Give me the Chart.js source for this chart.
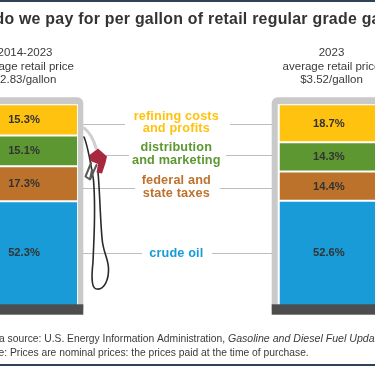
<!DOCTYPE html>
<html><head><meta charset="utf-8">
<style>html,body{margin:0;padding:0;background:#fff;overflow:hidden;width:375px;height:366px}
#w{position:absolute;left:-60px;top:0;width:500px;height:366px}
canvas{filter:blur(0.35px)}</style>
<script src="https://cdn.jsdelivr.net/npm/chart.js@4"></script></head>
<body><div id="w"><canvas id="c" width="500" height="366" style="width:500px;height:366px"></canvas></div>
<script>
const categories = ["2014-2023", "", "2023"];
const crude = [52.3, null, 52.6];
const taxes = [17.3, null, 14.4];
const distribution = [15.1, null, 14.3];
const refining = [15.3, null, 18.7];
const headers = [["2014-2023", "average retail price", "$2.83/gallon"], ["2023", "average retail price", "$3.52/gallon"]];
const titleText = "What do we pay for per gallon of retail regular grade gasoline?";
const sourceParts = ["Data source: U.S. Energy Information Administration, ", "Gasoline and Diesel Fuel Update"];
const noteText = "Note: Prices are nominal prices: the prices paid at the time of purchase.";
const C = {y:"#ffc20e", g:"#5d9732", b:"#bd722b", l:"#189bd7"};
const OX = 60; // canvas offset relative to the window
const F = "'Liberation Sans', Arial, sans-serif";

const annot = {
  id:"annot",
  beforeDatasetsDraw(ch){
    const x = ch.ctx; x.save(); x.translate(OX,0);
    x.fillStyle="#c9c9c9";
    x.beginPath(); x.roundRect(-60,97.3,143.3,212,[0,6,0,0]); x.fill();
    x.beginPath(); x.roundRect(271.7,97.3,170,212,[6,0,0,0]); x.fill();
    x.fillStyle="#fff";
    x.fillRect(-60,104.3,137.7,205); x.fillRect(277.7,104.3,170,205);
    // leader lines
    x.strokeStyle="#bdbdbd"; x.lineWidth=1;
    [[124.5,83,125,230,272],[155.5,105,129,226,272],[188.5,83,135,220,272],[253.5,83,142,212,272]].forEach(l=>{
      x.beginPath(); x.moveTo(l[1],l[0]); x.lineTo(l[2],l[0]); x.moveTo(l[3],l[0]); x.lineTo(l[4],l[0]); x.stroke();
    });
    x.restore();
  },
  afterDatasetsDraw(ch){
    const x = ch.ctx; x.save(); x.translate(OX,0);
    const baseTop = 304.3;
    x.fillStyle="#4d4d4d";
    x.fillRect(-60,baseTop,143.3,10.4); x.fillRect(271.7,baseTop,170,10.4);
    // value labels
    x.font="bold 11.2px "+F; x.fillStyle="#333"; x.textAlign="center"; x.textBaseline="middle";
    ch.data.datasets.forEach((d,i)=>{
      ch.getDatasetMeta(i).data.forEach((el,j)=>{
        if(d.data[j]==null) return;
        const my=(el.y+Math.min(el.base,baseTop))/2;
        x.fillText(d.data[j].toFixed(1)+"%", el.x-OX-2, my+0.5);
      });
    });
    // headers
    x.font="11.5px "+F; x.fillStyle="#3a3a3a";
    headers.forEach((h,i)=>h.forEach((t,k)=>x.fillText(t,[25,331.5][i],53.3+k*13.2)));
    // category text
    x.font="bold 12.7px "+F; x.letterSpacing="0.15px";
    [["refining costs",116,C.y],["and profits",128.5,C.y],["distribution",147.5,C.g],["and marketing",160,C.g],
     ["federal and",180.5,C.b],["state taxes",193,C.b],["crude oil",253.5,C.l]].forEach(t=>{
      x.fillStyle=t[2]; x.fillText(t[0],176.3,t[1]);
    });
    x.letterSpacing="0px";
    // title
    x.font="bold 15.9px "+F; x.fillStyle="#333"; x.letterSpacing="0.25px";
    x.fillText(titleText,194,19.5);
    x.letterSpacing="0px";
    // footer
    x.textAlign="left"; x.font="10.3px "+F; x.fillStyle="#3a3a3a";
    let sx=-17; x.fillText(sourceParts[0],sx,339.5);
    sx+=x.measureText(sourceParts[0]).width;
    x.font="italic 10.6px "+F; x.fillText(sourceParts[1],sx,339.5);
    x.font="10.3px "+F; x.fillText(noteText,-17.5,353.5);
    // pump
    x.lineCap="round"; x.lineJoin="round";
    x.strokeStyle="#cfcfcf"; x.lineWidth=3;
    x.beginPath(); x.moveTo(84,128); x.quadraticCurveTo(92,134,96,148); x.stroke();
    x.strokeStyle="#2a2a2a"; x.lineWidth=1.6;
    x.beginPath(); x.moveTo(84,137); x.bezierCurveTo(88,146,91,165,93.5,180);
    x.bezierCurveTo(96,210,94,235,93,262); x.bezierCurveTo(91,280,92,289,97,289);
    x.bezierCurveTo(104,290,109,280,108.5,268); x.bezierCurveTo(108,258,103,252,102,238);
    x.bezierCurveTo(100,215,100,195,98,172); x.stroke();
    x.strokeStyle="#5a5a5a"; x.lineWidth=2;
    x.beginPath(); x.moveTo(91,163); x.lineTo(85.5,176.5); x.lineTo(90,179.5); x.lineTo(96.5,165);
    x.moveTo(92,170); x.lineTo(90,179); x.stroke();
    x.fillStyle="#a7293f";
    x.beginPath(); x.moveTo(89.5,155); x.lineTo(98,148.5); x.lineTo(107,156.5); x.lineTo(105.5,163);
    x.lineTo(102,173.5); x.lineTo(96.5,172.5); x.lineTo(98,164); x.lineTo(90.5,161); x.closePath(); x.fill();
    x.restore();
    // window edge bands
    x.save(); x.fillStyle="#2f4058";
    x.fillRect(OX,0,375,2); x.fillRect(OX,364,375,2); x.restore();
  }
};

new Chart(document.getElementById("c"),{
  type:"bar",
  data:{labels:categories,datasets:[
    {label:"crude oil",data:crude,backgroundColor:C.l},
    {label:"federal and state taxes",data:taxes,backgroundColor:C.b},
    {label:"distribution and marketing",data:distribution,backgroundColor:C.g},
    {label:"refining costs and profits",data:refining,backgroundColor:C.y}
  ].map(d=>Object.assign(d,{borderColor:"#fff",borderWidth:1,borderSkipped:false,categoryPercentage:1,barPercentage:0.683}))},
  options:{
    responsive:false,animation:false,
    layout:{padding:{left:9.8,right:33,top:104.3,bottom:58.2}},
    plugins:{legend:{display:false},tooltip:{enabled:false},title:{display:false}},
    scales:{x:{display:false,stacked:true},y:{display:false,stacked:true,min:0,max:100}}
  },
  plugins:[annot]
});
</script></body></html>
